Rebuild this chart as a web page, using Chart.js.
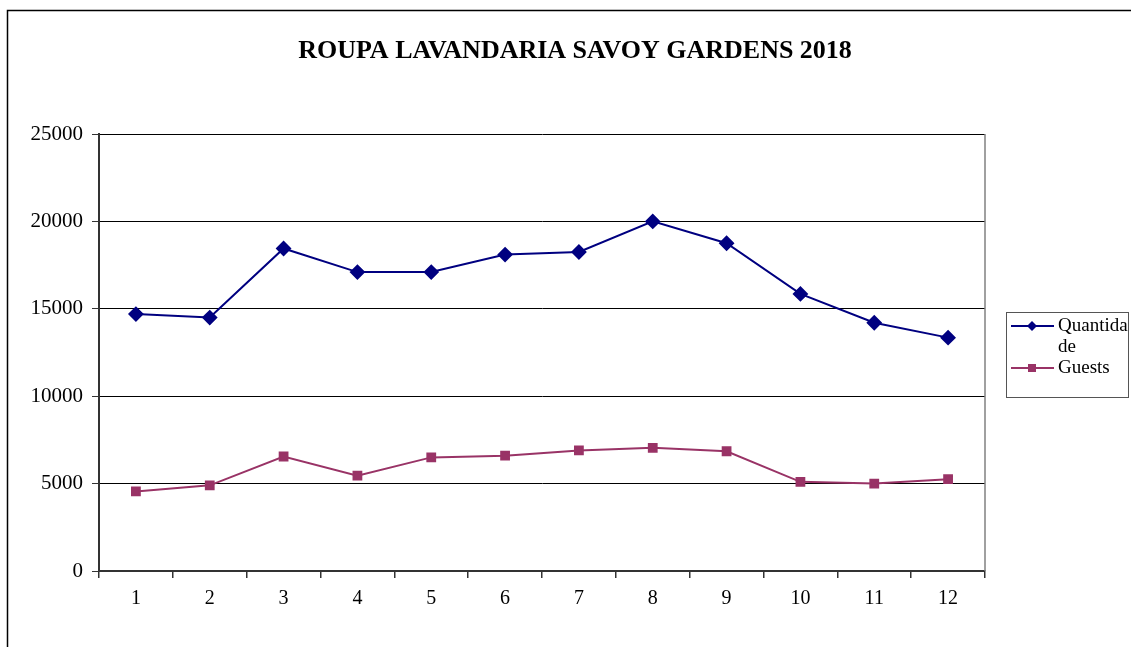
<!DOCTYPE html>
<html>
<head>
<meta charset="utf-8">
<script src="https://cdn.jsdelivr.net/npm/chart.js@4.4.1/dist/chart.umd.min.js"></script>
<style>
  html, body { margin: 0; padding: 0; background: #fff; }
  #wrap { position: relative; width: 1131px; height: 647px; }
</style>
</head>
<body>
<div id="wrap"><canvas id="laundryChart" width="1131" height="647"></canvas></div>
<script>
var chartTitle = 'ROUPA LAVANDARIA SAVOY GARDENS 2018';
var months = ['1', '2', '3', '4', '5', '6', '7', '8', '9', '10', '11', '12'];
var quantidade = [14700, 14500, 18450, 17100, 17100, 18100, 18250, 20000, 18750, 15850, 14200, 13350];
var guests = [4550, 4900, 6550, 5450, 6500, 6600, 6900, 7050, 6850, 5100, 5000, 5250];
var legendLabels = [['Quantida', 'de'], ['Guests']];
var yTicks = [0, 5000, 10000, 15000, 20000, 25000];

var serif = '"Liberation Serif", "Times New Roman", serif';

// frame, title, right border of plot, and the boxed legend
var decorations = {
    id: 'decorations',
    beforeDraw: function(chart) {
        var ctx = chart.ctx;
        ctx.save();
        ctx.fillStyle = '#fff';
        ctx.fillRect(0, 0, chart.width, chart.height);
        ctx.strokeStyle = '#000';
        ctx.lineWidth = 1.5;
        ctx.beginPath();
        ctx.moveTo(7.5, chart.height);
        ctx.lineTo(7.5, 10.5);
        ctx.lineTo(chart.width, 10.5);
        ctx.stroke();
        ctx.restore();
    },
    afterDraw: function(chart) {
        var ctx = chart.ctx;
        var area = chart.chartArea;
        ctx.save();

        ctx.fillStyle = '#000';
        ctx.font = 'bold 26px ' + serif;
        ctx.textAlign = 'center';
        ctx.textBaseline = 'middle';
        ctx.fillText(chartTitle, 575, 51);

        ctx.strokeStyle = '#808080';
        ctx.lineWidth = 1.5;
        ctx.beginPath();
        ctx.moveTo(area.right, area.top);
        ctx.lineTo(area.right, area.bottom);
        ctx.stroke();

        // legend
        ctx.strokeStyle = '#555';
        ctx.lineWidth = 1;
        ctx.strokeRect(1006.5, 312.5, 122, 85);
        ctx.font = '19px ' + serif;
        ctx.textAlign = 'left';
        ctx.textBaseline = 'middle';
        var y = 326;
        chart.data.datasets.forEach(function(ds, i) {
            ctx.strokeStyle = ds.borderColor;
            ctx.lineWidth = 2;
            ctx.beginPath();
            ctx.moveTo(1011, y);
            ctx.lineTo(1054, y);
            ctx.stroke();
            ctx.fillStyle = ds.borderColor;
            if (ds.pointStyle === 'rectRot') {
                ctx.beginPath();
                ctx.moveTo(1032, y - 5);
                ctx.lineTo(1037, y);
                ctx.lineTo(1032, y + 5);
                ctx.lineTo(1027, y);
                ctx.closePath();
                ctx.fill();
            } else {
                ctx.fillRect(1028, y - 4, 8, 8);
            }
            ctx.fillStyle = '#000';
            legendLabels[i].forEach(function(line, j) {
                ctx.fillText(line, 1058, y + j * 21);
            });
            y += legendLabels[i].length * 21;
        });
        ctx.restore();
    }
};

var ctx = document.getElementById('laundryChart').getContext('2d');

new Chart(ctx, {
    type: 'line',
    data: {
        labels: months,
        datasets: [{
            label: legendLabels[0].join(''),
            data: quantidade,
            borderColor: '#000080',
            backgroundColor: '#000080',
            borderWidth: 2,
            pointStyle: 'rectRot',
            pointRadius: 6.5,
            pointHoverRadius: 6.5,
            tension: 0
        }, {
            label: legendLabels[1].join(''),
            data: guests,
            borderColor: '#993366',
            backgroundColor: '#993366',
            borderWidth: 2,
            pointStyle: 'rect',
            pointRadius: 5.5,
            pointHoverRadius: 5.5,
            tension: 0
        }]
    },
    options: {
        responsive: false,
        animation: false,
        devicePixelRatio: 1,
        layout: {
            padding: { top: 134, right: 146, bottom: 0, left: 0 }
        },
        plugins: {
            legend: { display: false },
            title: { display: false },
            tooltip: { enabled: false }
        },
        scales: {
            x: {
                offset: true,
                grid: {
                    offset: true,
                    drawOnChartArea: false,
                    drawTicks: true,
                    tickLength: 7,
                    color: '#333',
                    lineWidth: 1.5
                },
                border: { color: '#333', width: 2 },
                ticks: {
                    color: '#000',
                    font: { family: serif, size: 20 },
                    padding: 9,
                    maxRotation: 0
                },
                afterFit: function(scale) { scale.height = 76; }
            },
            y: {
                min: 0,
                max: 25000,
                afterBuildTicks: function(scale) {
                    scale.ticks = yTicks.map(function(v) { return { value: v }; });
                },
                grid: {
                    color: '#000',
                    lineWidth: 1,
                    drawTicks: true,
                    tickLength: 7,
                    tickColor: '#333'
                },
                border: { color: '#333', width: 2 },
                ticks: {
                    color: '#000',
                    font: { family: serif, size: 21 },
                    padding: 9,
                    callback: function(value) { return String(value); }
                },
                afterFit: function(scale) { scale.width = 99; }
            }
        }
    },
    plugins: [decorations]
});
</script>
</body>
</html>
